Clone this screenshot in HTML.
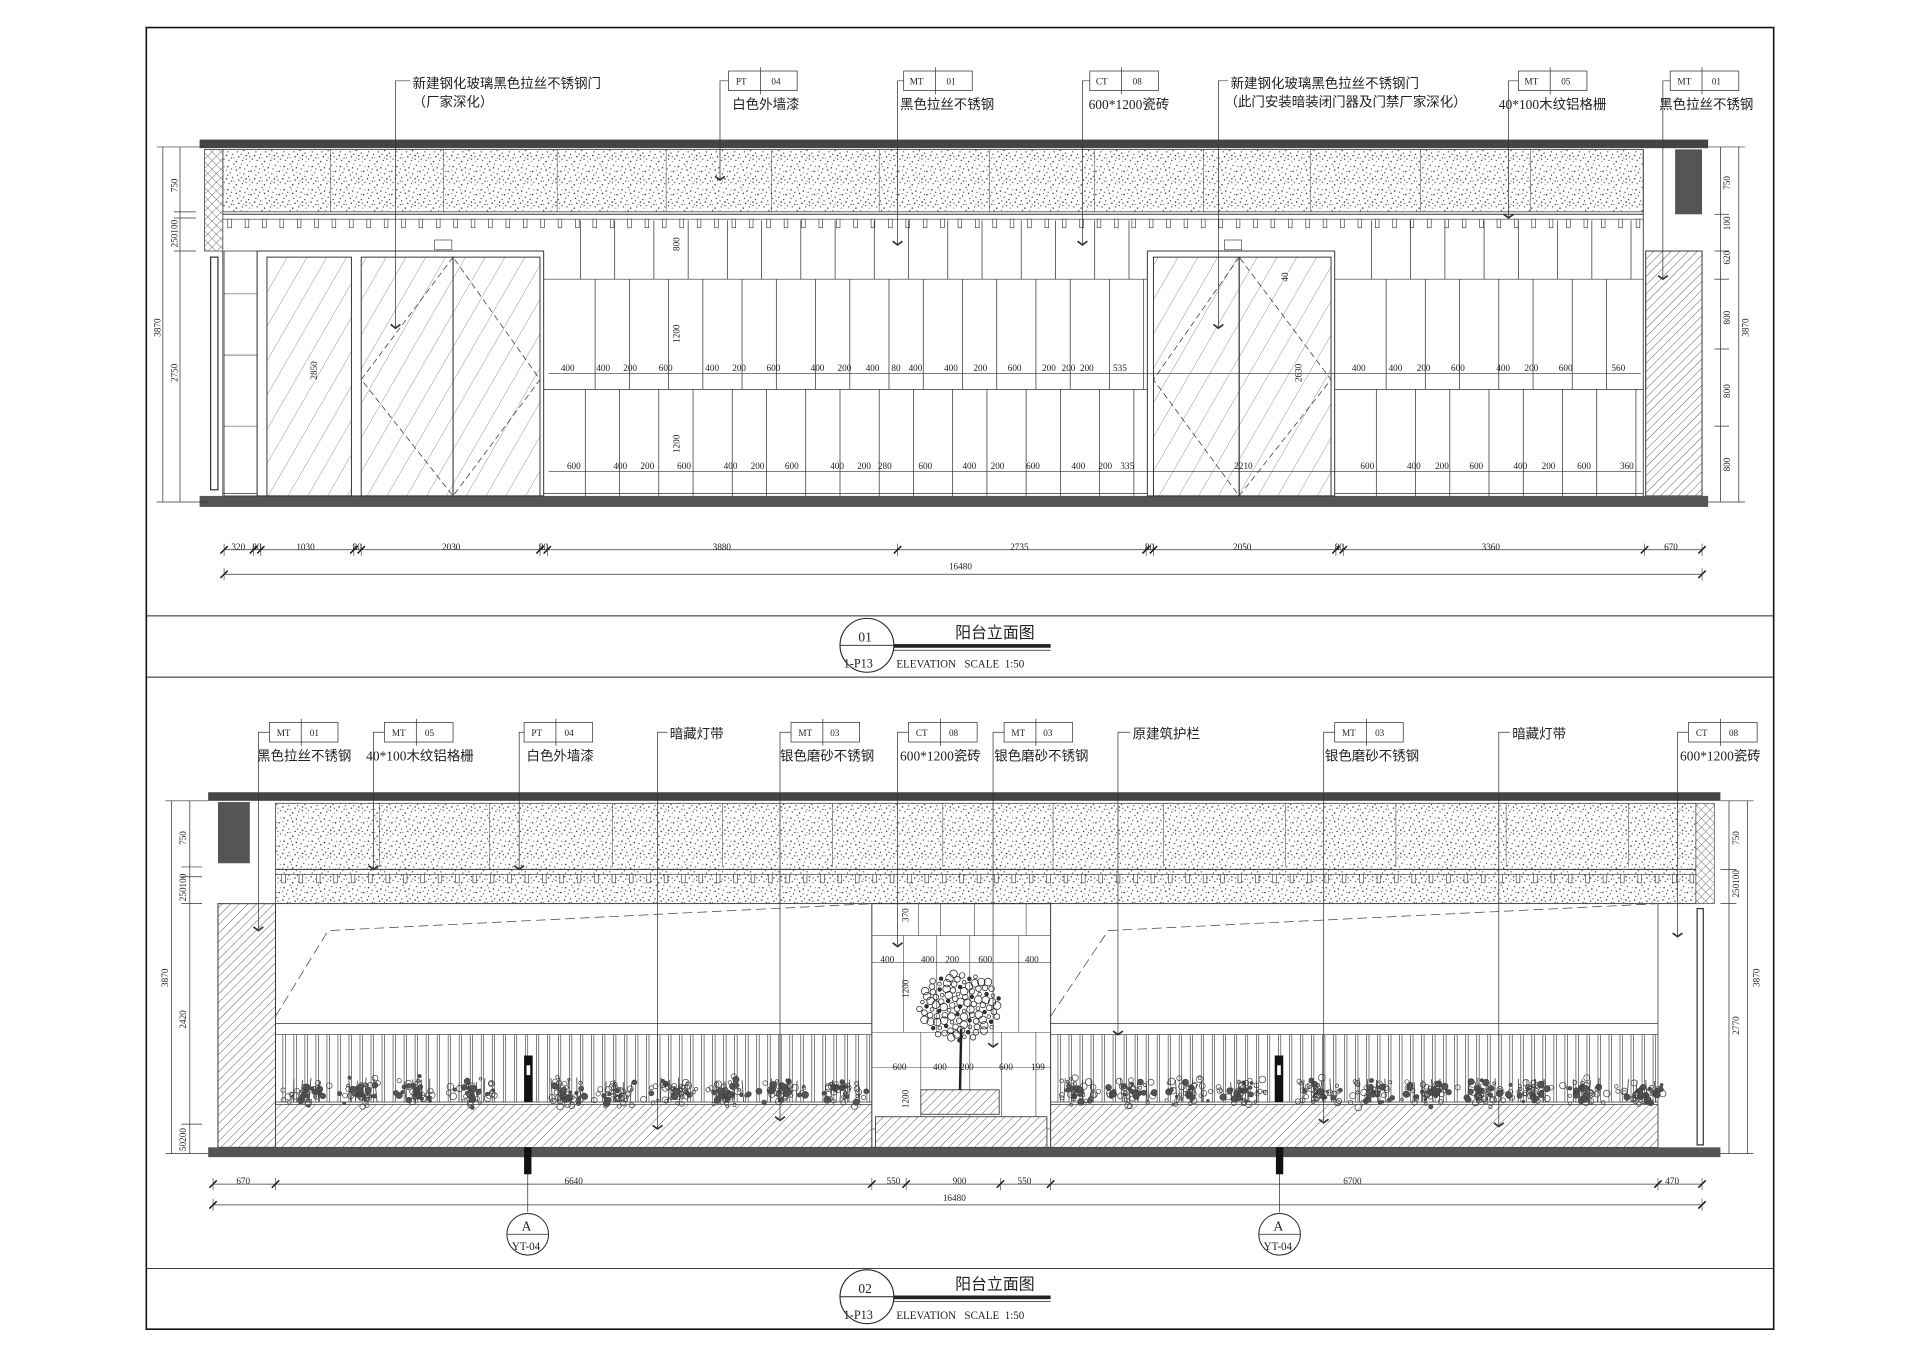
<!DOCTYPE html>
<html><head><meta charset="utf-8"><style>
html,body{margin:0;padding:0;background:#fff;}
svg{display:block;}
text{font-family:"Liberation Serif","Noto Sans CJK SC",serif;fill:#222;}
.l{font-size:11px;}
.d{font-size:7.5px;}
.t{font-size:7.5px;}
</style></head><body>
<svg id="s" width="1920" height="1356" viewBox="0 0 1568 1107.4" xmlns="http://www.w3.org/2000/svg">
<defs>
<pattern id="sp" width="23" height="19" patternUnits="userSpaceOnUse">
<rect width="23" height="19" fill="#fff"/>
<g fill="#222">
<circle cx="2" cy="3" r="0.6"/><circle cx="7" cy="1" r="0.5"/><circle cx="12" cy="4" r="0.6"/><circle cx="18" cy="2" r="0.5"/><circle cx="21" cy="7" r="0.6"/>
<circle cx="4" cy="8" r="0.5"/><circle cx="9" cy="6" r="0.6"/><circle cx="15" cy="9" r="0.5"/><circle cx="1" cy="13" r="0.6"/><circle cx="6" cy="12" r="0.5"/>
<circle cx="11" cy="14" r="0.6"/><circle cx="17" cy="13" r="0.6"/><circle cx="22" cy="16" r="0.5"/><circle cx="3" cy="17" r="0.5"/><circle cx="9" cy="18" r="0.6"/>
<circle cx="14" cy="17" r="0.5"/><circle cx="19" cy="11" r="0.5"/><circle cx="13" cy="1" r="0.4"/><circle cx="20" cy="18" r="0.4"/><circle cx="7" cy="15" r="0.4"/>
<circle cx="5" cy="5" r="0.5"/><circle cx="10" cy="10" r="0.5"/><circle cx="16" cy="5" r="0.5"/><circle cx="20" cy="14" r="0.5"/><circle cx="2" cy="10" r="0.5"/>
<circle cx="13" cy="12" r="0.5"/><circle cx="8" cy="3" r="0.4"/><circle cx="17" cy="16" r="0.5"/><circle cx="22" cy="3" r="0.4"/><circle cx="5" cy="15" r="0.5"/>
<circle cx="12" cy="8" r="0.4"/><circle cx="19" cy="7" r="0.4"/><circle cx="1" cy="6" r="0.4"/><circle cx="15" cy="15" r="0.4"/>
</g></pattern>
<pattern id="hx" width="5" height="5" patternUnits="userSpaceOnUse" patternTransform="rotate(45)">
<rect width="5" height="5" fill="#fff"/><line x1="0" y1="0" x2="0" y2="5" stroke="#444" stroke-width="0.6"/><line x1="0" y1="0" x2="5" y2="0" stroke="#444" stroke-width="0.6"/></pattern>
<pattern id="hd" width="5" height="5" patternUnits="userSpaceOnUse" patternTransform="rotate(45)">
<rect width="5" height="5" fill="#fff"/><line x1="0" y1="0" x2="0" y2="5" stroke="#444" stroke-width="0.7"/></pattern>
<pattern id="gl" width="14" height="14" patternUnits="userSpaceOnUse" patternTransform="rotate(30)">
<line x1="0" y1="0" x2="0" y2="14" stroke="#555" stroke-width="0.5"/></pattern>
</defs>

<rect x="119.5" y="22.5" width="1329" height="1063" fill="none" stroke="#111" stroke-width="1.3"/>
<line x1="119" y1="503" x2="1449" y2="503" stroke="#222" stroke-width="0.8"/>
<line x1="119" y1="553" x2="1449" y2="553" stroke="#222" stroke-width="0.8"/>
<line x1="119" y1="1036" x2="1449" y2="1036" stroke="#222" stroke-width="0.8"/>

<!-- ============ ELEVATION 1 ============ -->
<rect x="163" y="114" width="1232" height="7" fill="#444"/>
<rect x="182" y="122" width="1160" height="51" fill="url(#sp)" stroke="#333" stroke-width="0.6"/>
<rect x="167" y="122" width="15" height="83" fill="url(#hx)" stroke="#333" stroke-width="0.6"/>
<rect x="1368" y="122" width="22" height="53" fill="#555"/>
<rect x="1344" y="205" width="46" height="200" fill="url(#hd)" stroke="#333" stroke-width="0.8"/>
<line x1="1342" y1="122" x2="1342" y2="405" stroke="#333" stroke-width="0.7"/>
<line x1="182" y1="175" x2="1342" y2="175" stroke="#333" stroke-width="0.8"/>
<line x1="182" y1="179" x2="1342" y2="179" stroke="#333" stroke-width="0.5"/>
<g id="lv1"></g>
<rect x="163" y="405" width="1232" height="9" fill="#555"/>
<line x1="182" y1="403" x2="1342" y2="403" stroke="#333" stroke-width="0.6"/>
<line x1="182" y1="205" x2="182" y2="405" stroke="#333" stroke-width="0.7"/>
<rect x="172" y="210" width="6" height="190" fill="none" stroke="#333" stroke-width="1"/>
<rect x="183" y="205" width="27" height="200" fill="none" stroke="#333" stroke-width="0.6"/>
<line x1="183" y1="290" x2="210" y2="290" stroke="#333" stroke-width="0.5"/>
<line x1="183" y1="348" x2="210" y2="348" stroke="#333" stroke-width="0.5"/>
<line x1="183" y1="240" x2="210" y2="240" stroke="#333" stroke-width="0.5"/>
<g id="tile1" stroke="#444" stroke-width="0.5"></g>
<rect x="210" y="205" width="234" height="200" fill="#fff" stroke="#333" stroke-width="0.8"/>
<rect x="218" y="210" width="69" height="195" fill="url(#gl)" stroke="#333" stroke-width="0.8"/>
<rect x="295" y="210" width="75" height="195" fill="url(#gl)" stroke="#333" stroke-width="0.8"/>
<rect x="370" y="210" width="71" height="195" fill="url(#gl)" stroke="#333" stroke-width="0.8"/>
<polyline points="370,210 295,310 370,405 441,310 370,210" fill="none" stroke="#333" stroke-width="0.6" stroke-dasharray="5,3"/>
<rect x="355" y="196" width="14" height="8" fill="#fff" stroke="#333" stroke-width="0.5"/>
<rect x="937" y="205" width="153" height="200" fill="#fff" stroke="#333" stroke-width="0.8"/>
<rect x="942" y="210" width="70" height="195" fill="url(#gl)" stroke="#333" stroke-width="0.8"/>
<rect x="1012" y="210" width="75" height="195" fill="url(#gl)" stroke="#333" stroke-width="0.8"/>
<polyline points="1012,210 942,310 1012,405 1087,310 1012,210" fill="none" stroke="#333" stroke-width="0.6" stroke-dasharray="5,3"/>
<rect x="1000" y="196" width="14" height="8" fill="#fff" stroke="#333" stroke-width="0.5"/>
<text class="d" transform="translate(259,310) rotate(-90)">2850</text>
<text class="d" transform="translate(1063,312) rotate(-90)">2630</text>
<text class="d" transform="translate(1052,230) rotate(-90)">40</text>
<text class="d" transform="translate(555,205) rotate(-90)">800</text>
<text class="d" transform="translate(555,280) rotate(-90)">1200</text>
<text class="d" transform="translate(555,370) rotate(-90)">1200</text>
<g class="d">
<text x="458" y="303">400</text><text x="487" y="303">400</text><text x="509" y="303">200</text><text x="538" y="303">600</text><text x="576" y="303">400</text><text x="598" y="303">200</text><text x="626" y="303">600</text><text x="662" y="303">400</text><text x="684" y="303">200</text><text x="707" y="303">400</text><text x="728" y="303">80</text><text x="742" y="303">400</text><text x="771" y="303">400</text><text x="795" y="303">200</text><text x="823" y="303">600</text><text x="851" y="303">200</text><text x="867" y="303">200</text><text x="882" y="303">200</text><text x="909" y="303">535</text>
<text x="1104" y="303">400</text><text x="1134" y="303">400</text><text x="1157" y="303">200</text><text x="1185" y="303">600</text><text x="1222" y="303">400</text><text x="1245" y="303">200</text><text x="1273" y="303">600</text><text x="1316" y="303">560</text>
<text x="463" y="383">600</text><text x="501" y="383">400</text><text x="523" y="383">200</text><text x="553" y="383">600</text><text x="591" y="383">400</text><text x="613" y="383">200</text><text x="641" y="383">600</text><text x="678" y="383">400</text><text x="700" y="383">200</text><text x="717" y="383">280</text><text x="750" y="383">600</text><text x="786" y="383">400</text><text x="809" y="383">200</text><text x="838" y="383">600</text><text x="875" y="383">400</text><text x="897" y="383">200</text><text x="915" y="383">335</text><text x="1008" y="383">2210</text>
<text x="1111" y="383">600</text><text x="1149" y="383">400</text><text x="1172" y="383">200</text><text x="1200" y="383">600</text><text x="1236" y="383">400</text><text x="1259" y="383">200</text><text x="1288" y="383">600</text><text x="1323" y="383">360</text>
</g>
<line x1="448" y1="305" x2="1340" y2="305" stroke="#333" stroke-width="0.5"/>
<line x1="448" y1="385" x2="1340" y2="385" stroke="#333" stroke-width="0.5"/>
<g stroke="#333" stroke-width="0.6">
<line x1="133" y1="120" x2="133" y2="410"/><line x1="147" y1="120" x2="147" y2="410"/>
<line x1="128" y1="120" x2="170" y2="120"/><line x1="128" y1="410" x2="170" y2="410"/>
<line x1="142" y1="173" x2="160" y2="173"/><line x1="142" y1="178" x2="160" y2="178"/><line x1="142" y1="205" x2="160" y2="205"/>
<line x1="1405" y1="120" x2="1405" y2="410"/><line x1="1420" y1="120" x2="1420" y2="410"/>
<line x1="1395" y1="120" x2="1425" y2="120"/><line x1="1395" y1="410" x2="1425" y2="410"/>
<line x1="1400" y1="175" x2="1412" y2="175"/><line x1="1400" y1="205" x2="1412" y2="205"/><line x1="1400" y1="228" x2="1412" y2="228"/><line x1="1400" y1="285" x2="1412" y2="285"/><line x1="1400" y1="348" x2="1412" y2="348"/>
</g>
<g class="d">
<text transform="translate(145,157) rotate(-90)">750</text>
<text transform="translate(145,202) rotate(-90)">250100</text>
<text transform="translate(145,312) rotate(-90)">2750</text>
<text transform="translate(131,275) rotate(-90)">3870</text>
<text transform="translate(1413,155) rotate(-90)">750</text>
<text transform="translate(1413,188) rotate(-90)">100</text>
<text transform="translate(1413,216) rotate(-90)">620</text>
<text transform="translate(1413,265) rotate(-90)">800</text>
<text transform="translate(1413,325) rotate(-90)">800</text>
<text transform="translate(1413,385) rotate(-90)">800</text>
<text transform="translate(1428,275) rotate(-90)">3870</text>
</g>
<g stroke="#333" stroke-width="0.6">
<line x1="183" y1="449" x2="1390" y2="449"/><line x1="183" y1="469" x2="1390" y2="469"/>
</g>
<g id="tk1"></g>
<g class="d">
<text x="189" y="449">320</text><text x="206" y="449">80</text><text x="242" y="449">1030</text><text x="288" y="449">80</text><text x="361" y="449">2030</text><text x="440" y="449">80</text><text x="582" y="449">3880</text><text x="825" y="449">2735</text><text x="935" y="449">80</text><text x="1007" y="449">2050</text><text x="1090" y="449">80</text><text x="1210" y="449">3360</text><text x="1359" y="449">670</text>
<text x="775" y="465">16480</text>
</g>
<g id="lab1" fill="none" stroke="#333" stroke-width="0.6"></g>
<g class="l">
<text x="337" y="72">新建钢化玻璃黑色拉丝不锈钢门</text><text x="337" y="87">（厂家深化）</text>
<text x="598" y="89">白色外墙漆</text>
<text x="735" y="89">黑色拉丝不锈钢</text>
<text x="889" y="89">600*1200瓷砖</text>
<text x="1005" y="72">新建钢化玻璃黑色拉丝不锈钢门</text><text x="1000" y="87">（此门安装暗装闭门器及门禁厂家深化）</text>
<text x="1224" y="89">40*100木纹铝格栅</text>
<text x="1355" y="89">黑色拉丝不锈钢</text>
</g>

<circle cx="708" cy="527" r="22" fill="#fff" stroke="#222" stroke-width="0.9"/>
<line x1="686" y1="527" x2="730" y2="527" stroke="#222" stroke-width="0.8"/>
<rect x="730" y="526" width="128" height="3" fill="#222"/>
<line x1="730" y1="531" x2="858" y2="531" stroke="#222" stroke-width="0.6"/>
<text x="701" y="524" style="font-size:11px">01</text>
<text x="689" y="545" style="font-size:10px">1-P13</text>
<text x="780" y="521" style="font-size:13px">阳台立面图</text>
<text x="732" y="545" style="font-size:9px">ELEVATION&#160;&#160;&#160;SCALE&#160;&#160;1:50</text>

<!-- ============ ELEVATION 2 ============ -->
<rect x="170" y="647" width="1235" height="7" fill="#444"/>
<rect x="225" y="656" width="1160" height="82" fill="url(#sp)" stroke="#333" stroke-width="0.6"/>
<rect x="178" y="655" width="26" height="50" fill="#555"/>
<line x1="225" y1="710" x2="1385" y2="710" stroke="#333" stroke-width="0.8"/>
<line x1="225" y1="714" x2="1385" y2="714" stroke="#333" stroke-width="0.5"/>
<g id="lv2"></g>
<rect x="1385" y="656" width="15" height="82" fill="url(#hx)" stroke="#333" stroke-width="0.5"/>
<rect x="178" y="738" width="47" height="199" fill="url(#hd)" stroke="#333" stroke-width="0.8"/>
<rect x="1386" y="742" width="5" height="193" fill="none" stroke="#333" stroke-width="1"/>
<line x1="1354" y1="738" x2="1354" y2="937" stroke="#333" stroke-width="0.6"/>
<line x1="225" y1="738" x2="1385" y2="738" stroke="#333" stroke-width="0.6"/>
<polyline points="225,830 268,760 712,738" fill="none" stroke="#444" stroke-width="0.6" stroke-dasharray="8,4"/>
<polyline points="858,830 905,760 1354,738" fill="none" stroke="#444" stroke-width="0.6" stroke-dasharray="8,4"/>
<g stroke="#333" stroke-width="0.6" fill="none">
<line x1="225" y1="836" x2="712" y2="836"/><line x1="225" y1="845" x2="712" y2="845"/>
<line x1="858" y1="836" x2="1354" y2="836"/><line x1="858" y1="845" x2="1354" y2="845"/>
<line x1="225" y1="900" x2="712" y2="900"/><line x1="858" y1="900" x2="1354" y2="900"/>
</g>
<g id="bal"></g>
<rect x="225" y="902" width="487" height="35" fill="url(#hd)" stroke="#333" stroke-width="0.6"/>
<rect x="858" y="902" width="496" height="35" fill="url(#hd)" stroke="#333" stroke-width="0.6"/>
<g id="pl"></g>
<rect x="712" y="738" width="146" height="199" fill="#fff" stroke="#333" stroke-width="0.8"/>
<g stroke="#444" stroke-width="0.5">
<line x1="712" y1="764" x2="858" y2="764"/><line x1="712" y1="843" x2="858" y2="843"/><line x1="712" y1="922" x2="858" y2="922"/>
<line x1="750" y1="738" x2="750" y2="764"/><line x1="768" y1="738" x2="768" y2="764"/><line x1="796" y1="738" x2="796" y2="764"/><line x1="838" y1="738" x2="838" y2="764"/>
<line x1="738" y1="764" x2="738" y2="843"/><line x1="765" y1="764" x2="765" y2="843"/><line x1="792" y1="764" x2="792" y2="843"/><line x1="832" y1="764" x2="832" y2="843"/>
<line x1="752" y1="843" x2="752" y2="922"/><line x1="792" y1="843" x2="792" y2="922"/><line x1="818" y1="843" x2="818" y2="922"/><line x1="846" y1="843" x2="846" y2="922"/>
<line x1="712" y1="786" x2="858" y2="786"/><line x1="712" y1="872" x2="858" y2="872"/>
</g>
<rect x="752" y="890" width="64" height="20" fill="url(#hd)" stroke="#333" stroke-width="0.7"/>
<rect x="715" y="912" width="140" height="25" fill="url(#hd)" stroke="#333" stroke-width="0.7"/>
<line x1="784" y1="890" x2="785" y2="840" stroke="#222" stroke-width="2"/>
<g id="tree"></g>
<g class="d">
<text x="719" y="786">400</text><text x="752" y="786">400</text><text x="772" y="786">200</text><text x="799" y="786">600</text><text x="837" y="786">400</text>
<text x="729" y="874">600</text><text x="762" y="874">400</text><text x="784" y="874">200</text><text x="816" y="874">600</text><text x="842" y="874">199</text>
<text transform="translate(742,753) rotate(-90)">370</text>
<text transform="translate(742,815) rotate(-90)">1200</text>
<text transform="translate(742,905) rotate(-90)">1200</text>
</g>
<rect x="428" y="862" width="7" height="38" fill="#111"/><rect x="430" y="870" width="3" height="8" fill="#fff"/>
<rect x="1041" y="862" width="7" height="38" fill="#111"/><rect x="1043" y="870" width="3" height="8" fill="#fff"/>
<rect x="170" y="937" width="1235" height="8" fill="#555"/>
<rect x="428" y="937" width="6" height="22" fill="#111"/>
<rect x="1042" y="937" width="6" height="22" fill="#111"/>
<line x1="431" y1="959" x2="431" y2="990" stroke="#333" stroke-width="0.6"/>
<line x1="1045" y1="959" x2="1045" y2="990" stroke="#333" stroke-width="0.6"/>
<circle cx="431" cy="1008" r="17" fill="#fff" stroke="#222" stroke-width="0.8"/>
<line x1="414" y1="1008" x2="448" y2="1008" stroke="#222" stroke-width="0.6"/>
<circle cx="1045" cy="1008" r="17" fill="#fff" stroke="#222" stroke-width="0.8"/>
<line x1="1028" y1="1008" x2="1062" y2="1008" stroke="#222" stroke-width="0.6"/>
<text x="426" y="1005" style="font-size:11px">A</text><text x="418" y="1021" style="font-size:9px">YT-04</text>
<text x="1040" y="1005" style="font-size:11px">A</text><text x="1032" y="1021" style="font-size:9px">YT-04</text>
<g stroke="#333" stroke-width="0.6">
<line x1="140" y1="654" x2="140" y2="942"/><line x1="155" y1="654" x2="155" y2="942"/>
<line x1="135" y1="654" x2="170" y2="654"/><line x1="135" y1="942" x2="170" y2="942"/>
<line x1="148" y1="708" x2="165" y2="708"/><line x1="148" y1="716" x2="165" y2="716"/><line x1="148" y1="738" x2="165" y2="738"/><line x1="148" y1="918" x2="165" y2="918"/>
<line x1="1412" y1="654" x2="1412" y2="942"/><line x1="1427" y1="654" x2="1427" y2="942"/>
<line x1="1405" y1="654" x2="1432" y2="654"/><line x1="1405" y1="942" x2="1432" y2="942"/>
<line x1="1405" y1="710" x2="1418" y2="710"/><line x1="1405" y1="738" x2="1418" y2="738"/>
</g>
<g class="d">
<text transform="translate(152,690) rotate(-90)">750</text>
<text transform="translate(152,736) rotate(-90)">250100</text>
<text transform="translate(152,840) rotate(-90)">2420</text>
<text transform="translate(152,940) rotate(-90)">50200</text>
<text transform="translate(137,806) rotate(-90)">3870</text>
<text transform="translate(1420,690) rotate(-90)">750</text>
<text transform="translate(1420,733) rotate(-90)">250100</text>
<text transform="translate(1420,845) rotate(-90)">2770</text>
<text transform="translate(1437,806) rotate(-90)">3870</text>
</g>
<g stroke="#333" stroke-width="0.6">
<line x1="174" y1="967" x2="1390" y2="967"/><line x1="174" y1="984" x2="1390" y2="984"/>
</g>
<g id="tk2"></g>
<g class="d">
<text x="193" y="967">670</text><text x="461" y="967">6640</text><text x="724" y="967">550</text><text x="778" y="967">900</text><text x="831" y="967">550</text><text x="1097" y="967">6700</text><text x="1360" y="967">470</text>
<text x="770" y="981">16480</text>
</g>
<g id="lab2" fill="none" stroke="#333" stroke-width="0.6"></g>
<g class="l">
<text x="210" y="621">黑色拉丝不锈钢</text>
<text x="299" y="621">40*100木纹铝格栅</text>
<text x="430" y="621">白色外墙漆</text>
<text x="547" y="603">暗藏灯带</text>
<text x="637" y="621">银色磨砂不锈钢</text>
<text x="735" y="621">600*1200瓷砖</text>
<text x="812" y="621">银色磨砂不锈钢</text>
<text x="925" y="603">原建筑护栏</text>
<text x="1082" y="621">银色磨砂不锈钢</text>
<text x="1235" y="603">暗藏灯带</text>
<text x="1372" y="621">600*1200瓷砖</text>
</g>

<circle cx="708" cy="1059" r="22" fill="#fff" stroke="#222" stroke-width="0.9"/>
<line x1="686" y1="1059" x2="730" y2="1059" stroke="#222" stroke-width="0.8"/>
<rect x="730" y="1058" width="128" height="3" fill="#222"/>
<line x1="730" y1="1063" x2="858" y2="1063" stroke="#222" stroke-width="0.6"/>
<text x="701" y="1056" style="font-size:11px">02</text>
<text x="689" y="1077" style="font-size:10px">1-P13</text>
<text x="780" y="1053" style="font-size:13px">阳台立面图</text>
<text x="732" y="1077" style="font-size:9px">ELEVATION&#160;&#160;&#160;SCALE&#160;&#160;1:50</text>

<g id="tags" fill="#fff" stroke="#333" stroke-width="0.6"></g>
<g class="t">
<text x="601" y="69">PT</text><text x="630" y="69">04</text>
<text x="743" y="69">MT</text><text x="773" y="69">01</text>
<text x="895" y="69">CT</text><text x="925" y="69">08</text>
<text x="1245" y="69">MT</text><text x="1275" y="69">05</text>
<text x="1370" y="69">MT</text><text x="1398" y="69">01</text>
<text x="226" y="601">MT</text><text x="253" y="601">01</text>
<text x="320" y="601">MT</text><text x="347" y="601">05</text>
<text x="434" y="601">PT</text><text x="461" y="601">04</text>
<text x="652" y="601">MT</text><text x="678" y="601">03</text>
<text x="748" y="601">CT</text><text x="775" y="601">08</text>
<text x="826" y="601">MT</text><text x="852" y="601">03</text>
<text x="1096" y="601">MT</text><text x="1123" y="601">03</text>
<text x="1385" y="601">CT</text><text x="1412" y="601">08</text>
</g>
</svg>
<script>
var NS="http://www.w3.org/2000/svg";
function el(p,t,a){var e=document.createElementNS(NS,t);for(var k in a)e.setAttribute(k,a[k]);document.getElementById(p).appendChild(e);return e;}
function ln(p,x1,y1,x2,y2,w,c){return el(p,"line",{x1:x1,y1:y1,x2:x2,y2:y2,stroke:c||"#333","stroke-width":w||0.6});}
for(var x=186;x<1340;x+=14.2){el("lv1","rect",{x:x,y:179,width:3,height:7,fill:"#fff",stroke:"#333","stroke-width":0.5});}
for(var x=230;x<1382;x+=14.2){el("lv2","rect",{x:x,y:714,width:3,height:7,fill:"#fff",stroke:"#333","stroke-width":0.5});}
[270,362,455,544,630,718,808,894,983,1070,1160,1250].forEach(function(x){ln("lv1",x,122,x,173,0.4);});
[310,400,500,590,680,770,860,950,1050,1140,1230,1330].forEach(function(x){ln("lv2",x,656,x,708,0.4);});
function tiles(x0,x1){ln("tile1",x0,228,x1,228);ln("tile1",x0,318,x1,318);
 var xs=[];for(var x=x0+30;x<x1;x+=28+((x*7)%3)*4)xs.push(x);
 xs.forEach(function(x,i){ln("tile1",x,180,x,228);ln("tile1",x+12,228,x+12,318);ln("tile1",x+4,318,x+4,405);});}
tiles(444,937);tiles(1090,1342);
function bal(x0,x1){for(var x=x0+6;x<x1;x+=9){el("bal","rect",{x:x,y:845,width:2,height:55,fill:"#fff",stroke:"#333","stroke-width":0.5});}}
bal(225,712);bal(858,1354);
var seed=7;function rnd(){seed=(seed*9301+49297)%233280;return seed/233280;}
function plant(cx){for(var i=0;i<45;i++){var a=rnd()*6.283,r=rnd()*16;el("pl","circle",{cx:cx+Math.cos(a)*r*1.3,cy:897+Math.sin(a)*r*0.6-rnd()*10,r:1+rnd()*1.8,fill:rnd()<0.3?"#555":"none",stroke:"#444","stroke-width":0.6});}
 for(var j=0;j<4;j++){var x=cx-10+j*7;ln("pl",x,880+rnd()*4,x+rnd()*4-2,900,0.7,"#444");}}
[250,295,340,385,460,505,550,595,640,690,880,925,970,1015,1075,1120,1165,1210,1250,1295,1340].forEach(plant);
for(var i=0;i<110;i++){var a=i*2.39996,r=Math.sqrt(i)*2.8;el("tree","circle",{cx:784+Math.cos(a)*r*1.15,cy:822+Math.sin(a)*r*0.95,r:1.5+(i%3)*0.8,fill:(i%6==0)?"#333":"none",stroke:"#222","stroke-width":0.6});}
function tk(p,xs,y){xs.forEach(function(x){ln(p,x-3,y+3,x+3,y-3,1.2,"#111");ln(p,x,y-5,x,y+5,0.5);});}
tk("tk1",[183,207,213,289,295,441,447,733,936,942,1091,1097,1343,1390],449);tk("tk1",[183,1390],469);
tk("tk2",[174,225,712,740,817,858,1354,1390],967);tk("tk2",[174,1390],984);
function tag(x,y){el("tags","rect",{x:x,y:y,width:56,height:16});ln("tags",x+26,y-3,x+26,y+19);}
[[595,58],[738,58],[890,58],[1240,58],[1364,58]].forEach(function(a){tag(a[0],a[1]);});
[[220,590],[314,590],[428,590],[646,590],[742,590],[820,590],[1090,590],[1379,590]].forEach(function(a){tag(a[0],a[1]);});
function lead(p,x,y0,y1,hx){el(p,"polyline",{points:(hx)+","+y0+" "+x+","+y0+" "+x+","+y1});el(p,"polyline",{points:(x-4)+","+(y1-3)+" "+x+","+y1+" "+(x+4)+","+(y1-3),"stroke-width":1.4});}
lead("lab1",323,66,268,335);lead("lab1",588,66,147,595);lead("lab1",733,66,200,738);lead("lab1",884,66,200,890);lead("lab1",995,66,268,1003);lead("lab1",1232,66,178,1240);lead("lab1",1358,66,228,1364);
lead("lab2",211,598,760,220);lead("lab2",305,598,710,314);lead("lab2",424,598,710,428);lead("lab2",537,598,922,545);lead("lab2",637,598,915,646);lead("lab2",733,598,773,742);lead("lab2",811,598,855,820);lead("lab2",913,598,845,923);lead("lab2",1081,598,917,1090);lead("lab2",1224,598,920,1233);lead("lab2",1370,598,765,1379);
</script>
</body></html>
